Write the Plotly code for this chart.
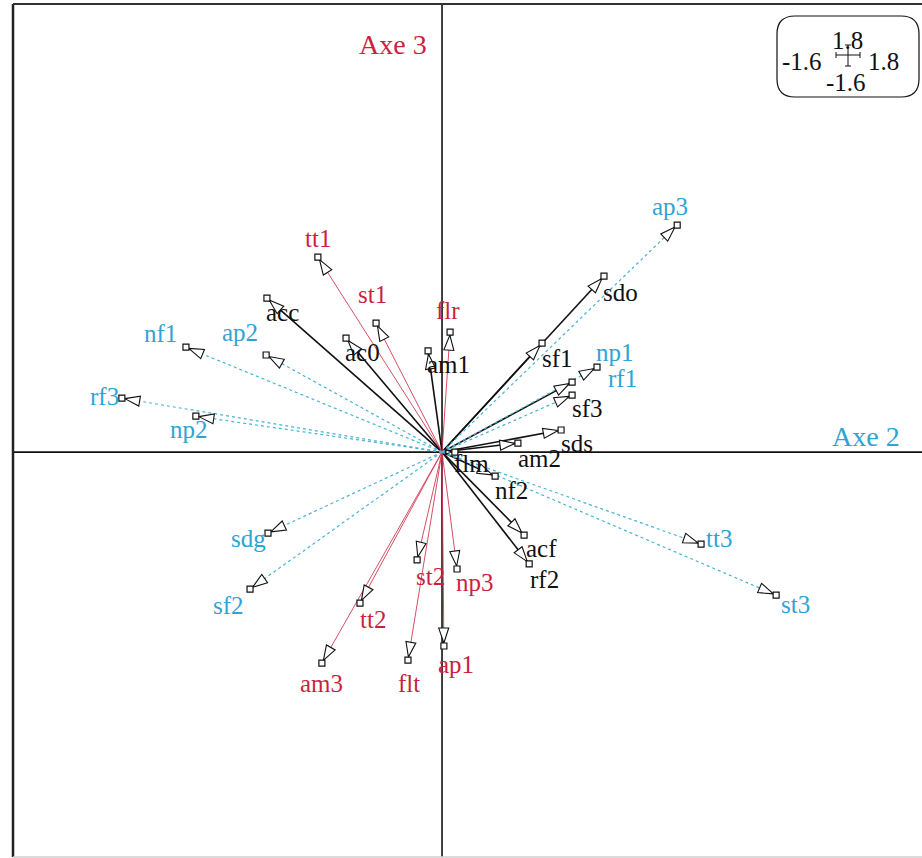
import numpy as np
import plotly.graph_objects as go

# ---- coordinates of the variables on axes 2 (x) and 3 (y) ----
black_names = ["acc", "ac0", "am1", "sdo", "sf1", "sf3", "sds", "am2", "flm", "nf2", "acf", "rf2"]
black_x = [-0.653, -0.358, -0.052, 0.604, 0.373, 0.485, 0.444, 0.283, 0.048, 0.198, 0.306, 0.325]
black_y = [0.614, 0.454, 0.403, 0.701, 0.434, 0.279, 0.088, 0.036, 0.000, -0.096, -0.331, -0.446]

red_names = ["tt1", "st1", "flr", "st2", "np3", "tt2", "am3", "flt", "ap1"]
red_x = [-0.463, -0.246, 0.030, -0.093, 0.056, -0.306, -0.448, -0.127, 0.007]
red_y = [0.777, 0.514, 0.478, -0.430, -0.466, -0.602, -0.841, -0.829, -0.773]

blue_names = ["ap3", "np1", "rf1", "nf1", "ap2", "rf3", "np2", "sdg", "sf2", "tt3", "st3"]
blue_x = [0.877, 0.578, 0.485, -0.955, -0.656, -1.194, -0.918, -0.649, -0.716, 0.966, 1.246]
blue_y = [0.905, 0.339, 0.227, 0.418, 0.387, 0.215, 0.143, -0.323, -0.546, -0.367, -0.570]

# window limits shown in the scale box
win_labels = {"top": "1.8", "left": "-1.6", "right": "1.8", "bottom": "-1.6"}

# ---- page geometry ----
W, H = 922, 858
ML, MR, MT, MB = 13, 0, 4, 1
X_RANGE = [-1.6, 1.79]
Y_RANGE = [-1.614, 1.786]
PW, PH = W - ML - MR, H - MT - MB
SX = PW / (X_RANGE[1] - X_RANGE[0])
SY = PH / (Y_RANGE[1] - Y_RANGE[0])

FONT = "Liberation Serif"
BLACK = "#111111"
RED = "#cc1f3f"
BLUE = "#2fa4d4"
RED_LINE = "#d23a55"
BLUE_LINE = "#45b4d6"

# label offsets in pixels (right, down) from the arrow tip
label_off = {
    "acc": (16, 17), "ac0": (16, 17), "am1": (20, 17), "sdo": (17, 19), "sf1": (15, 18),
    "sf3": (15, 29), "sds": (16, 16), "am2": (22, 18), "flm": (17, 14), "nf2": (16, 17),
    "acf": (17, 16), "rf2": (15, 19),
    "tt1": (0, -16), "st1": (-4, -26), "flr": (-2, -19), "st2": (13, 20), "np3": (18, 17),
    "tt2": (13, 19), "am3": (0, 23), "flt": (1, 26), "ap1": (12, 21),
    "ap3": (-7, -16), "np1": (18, -12), "rf1": (50, -14), "nf1": (-25, -11), "ap2": (-26, -19),
    "rf3": (-17, 1), "np2": (-7, 16), "sdg": (-20, 8), "sf2": (-22, 19), "tt3": (18, -3),
    "st3": (19, 12),
}

TIP_GAP, HEAD_LEN, HALF_W = 3.0, 15.0, 5.0


def spokes(xs, ys):
    lx, ly = [], []
    for x, y in zip(xs, ys):
        lx += [0, x, None]
        ly += [0, y, None]
    return lx, ly


def heads(xs, ys):
    hx, hy = [], []
    for x, y in zip(xs, ys):
        vx, vy = x * SX, y * SY
        n = np.hypot(vx, vy)
        ux, uy = vx / n, vy / n
        length = min(HEAD_LEN, 0.6 * max(n - TIP_GAP, 0))
        tx, ty = vx - TIP_GAP * ux, vy - TIP_GAP * uy
        bx, by = tx - length * ux, ty - length * uy
        px_, py_ = -uy, ux
        hw = HALF_W * length / HEAD_LEN
        pts = [(tx, ty), (bx + hw * px_, by + hw * py_), (bx - hw * px_, by - hw * py_), (tx, ty)]
        for a, b in pts:
            hx.append(a / SX)
            hy.append(b / SY)
        hx.append(None)
        hy.append(None)
    return hx, hy


fig = go.Figure()

groups = [
    (black_names, black_x, black_y, BLACK, BLACK, dict(width=1.6, dash="solid")),
    (red_names, red_x, red_y, RED_LINE, RED, dict(width=0.9, dash="solid")),
    (blue_names, blue_x, blue_y, BLUE_LINE, BLUE, dict(width=1.2, dash="dot")),
]

for names, xs, ys, lcol, tcol, lstyle in groups:
    lx, ly = spokes(xs, ys)
    fig.add_trace(go.Scatter(x=lx, y=ly, mode="lines", line=dict(color=lcol, **lstyle),
                             hoverinfo="skip", showlegend=False))

for names, xs, ys, lcol, tcol, lstyle in groups:
    hx, hy = heads(xs, ys)
    fig.add_trace(go.Scatter(x=hx, y=hy, mode="lines", fill="toself", fillcolor="white",
                             line=dict(color=BLACK, width=1.1), hoverinfo="skip", showlegend=False))
    fig.add_trace(go.Scatter(x=xs, y=ys, mode="markers", text=names, hoverinfo="text",
                             marker=dict(symbol="square", size=6, color="white",
                                         line=dict(color=BLACK, width=1.2)),
                             showlegend=False))

annotations = []
for names, xs, ys, lcol, tcol, lstyle in groups:
    for nm, x, y in zip(names, xs, ys):
        dx, dy = label_off[nm]
        annotations.append(dict(x=x, y=y, xref="x", yref="y", text=nm, showarrow=False,
                                xanchor="center", yanchor="middle",
                                xshift=dx, yshift=-dy + 3,
                                font=dict(family=FONT, size=25, color=tcol)))


def fx(p):
    return (p - ML) / PW


def fy(p):
    return (H - MB - p) / PH


def paper_text(cx, cy, text, size, color):
    return dict(x=fx(cx), y=fy(cy), xref="paper", yref="paper", text=text, showarrow=False,
                xanchor="center", yanchor="middle", font=dict(family=FONT, size=size, color=color))


# axis titles
annotations.append(paper_text(393, 45, "Axe 3", 28, RED))
annotations.append(paper_text(866, 436, "Axe 2", 28, BLUE))

# scale box text
for key, (cx, cy) in {"top": (847, 40), "left": (802, 62), "right": (883, 62), "bottom": (846, 83)}.items():
    annotations.append(paper_text(cx, cy, win_labels[key], 25, BLACK))

shapes = []
# axes through the origin
shapes.append(dict(type="line", xref="x", yref="paper", x0=0, x1=0, y0=0, y1=1,
                   line=dict(color=BLACK, width=1.6), layer="below"))
shapes.append(dict(type="line", xref="paper", yref="y", x0=0, x1=1, y0=0, y1=0,
                   line=dict(color=BLACK, width=1.6), layer="below"))
# frame
shapes.append(dict(type="line", xref="paper", yref="paper", x0=0, x1=0, y0=0, y1=1,
                   line=dict(color="#222222", width=2.5)))
shapes.append(dict(type="line", xref="paper", yref="paper", x0=0, x1=1, y0=1, y1=1,
                   line=dict(color="#333333", width=2)))
shapes.append(dict(type="line", xref="paper", yref="paper", x0=0, x1=1, y0=0, y1=0,
                   line=dict(color="#cfcfcf", width=1.5)))

# rounded scale box
bx0, bx1, by0, by1, r = 777, 919, 16, 97, 18
path = (f"M {fx(bx0 + r)},{fy(by0)} L {fx(bx1 - r)},{fy(by0)} "
        f"Q {fx(bx1)},{fy(by0)} {fx(bx1)},{fy(by0 + r)} L {fx(bx1)},{fy(by1 - r)} "
        f"Q {fx(bx1)},{fy(by1)} {fx(bx1 - r)},{fy(by1)} L {fx(bx0 + r)},{fy(by1)} "
        f"Q {fx(bx0)},{fy(by1)} {fx(bx0)},{fy(by1 - r)} L {fx(bx0)},{fy(by0 + r)} "
        f"Q {fx(bx0)},{fy(by0)} {fx(bx0 + r)},{fy(by0)} Z")
shapes.append(dict(type="path", xref="paper", yref="paper", path=path,
                   line=dict(color=BLACK, width=1.2), fillcolor="white", layer="below"))

# little cross with end caps inside the box
cxp, cyp = 848, 55
for (x0, y0, x1, y1) in [
    (836, cyp, 860, cyp), (836, cyp - 3, 836, cyp + 3), (860, cyp - 3, 860, cyp + 3),
    (cxp, 45, cxp, 66), (cxp - 3, 45, cxp + 3, 45), (cxp - 3, 66, cxp + 3, 66),
]:
    shapes.append(dict(type="line", xref="paper", yref="paper", x0=fx(x0), x1=fx(x1),
                       y0=fy(y0), y1=fy(y1), line=dict(color=BLACK, width=1)))

fig.update_layout(
    width=W, height=H,
    margin=dict(l=ML, r=MR, t=MT, b=MB),
    paper_bgcolor="white", plot_bgcolor="white",
    xaxis=dict(range=X_RANGE, visible=False, showgrid=False, zeroline=False),
    yaxis=dict(range=Y_RANGE, visible=False, showgrid=False, zeroline=False),
    shapes=shapes, annotations=annotations,
    showlegend=False,
)

fig.write_html("out.html")
